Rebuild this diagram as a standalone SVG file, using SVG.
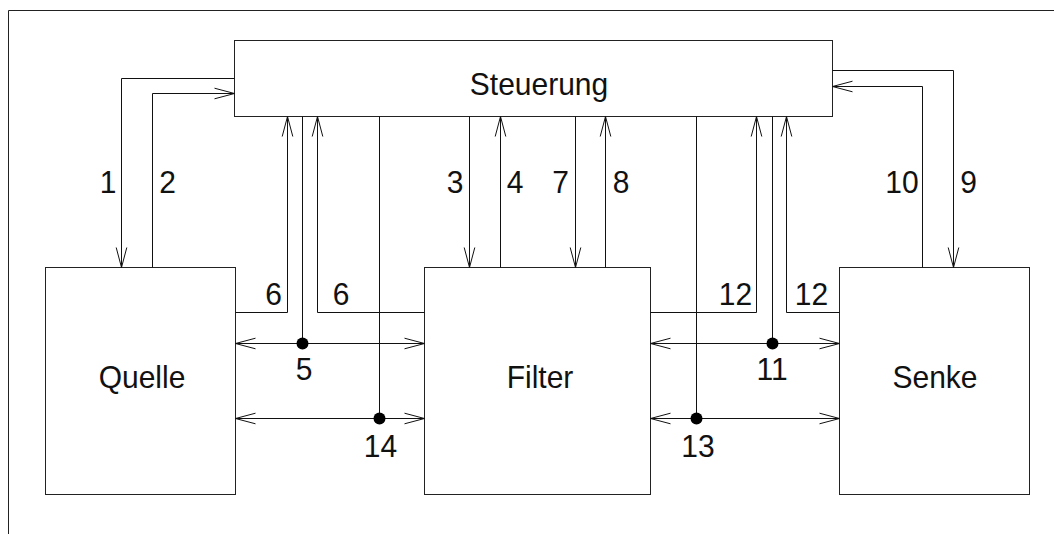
<svg xmlns="http://www.w3.org/2000/svg" width="1054" height="534" viewBox="0 0 1054 534">
<style>
.box{fill:#fff;stroke:#222;stroke-width:1}
.c{fill:none;stroke:#111;stroke-width:1}
.lbl{font-family:"Liberation Sans",Arial,sans-serif;font-size:30px;fill:#111;text-anchor:middle}
.dot{fill:#000}
</style>
<defs>
<marker id="a" markerUnits="userSpaceOnUse" viewBox="-21 -6 22 12" refX="0" refY="0" markerWidth="22" markerHeight="12" orient="auto-start-reverse" overflow="visible">
<path d="M-20,-5.3 L0,0 L-20,5.3" fill="none" stroke="#111" stroke-width="1"/>
</marker>
</defs>
<rect width="1054" height="534" fill="#fff"/>
<path d="M8.5,534 V10.5 H1054" fill="none" stroke="#222" stroke-width="1"/>
<g id="steuerung"><rect class="box" x="234.5" y="40.5" width="598" height="76"/><text class="lbl" transform="translate(539 95) scale(1 1.06)">Steuerung</text></g>
<g id="quelle"><rect class="box" x="45.5" y="267.5" width="190" height="227"/><text class="lbl" transform="translate(142 388) scale(1 1.06)">Quelle</text></g>
<g id="filter"><rect class="box" x="424.5" y="267.5" width="226" height="227"/><text class="lbl" transform="translate(540 388) scale(1 1.06)">Filter</text></g>
<g id="senke"><rect class="box" x="839.5" y="267.5" width="190" height="227"/><text class="lbl" transform="translate(935 388) scale(1 1.06)">Senke</text></g>
<g id="connectors">
<path class="c" d="M234.5,78.5 H121.5 V267.5" marker-end="url(#a)"/>
<path class="c" d="M152.5,267.5 V93.5 H234.5" marker-end="url(#a)"/>
<path class="c" d="M235.5,312.5 H287.5 V116.5" marker-end="url(#a)"/>
<path class="c" d="M302.5,116.5 V343.5"/>
<path class="c" d="M424.5,312.5 H317.5 V116.5" marker-end="url(#a)"/>
<path class="c" d="M379.5,116.5 V418.5"/>
<path class="c" d="M235.5,343.5 H424.5" marker-start="url(#a)" marker-end="url(#a)"/>
<path class="c" d="M235.5,418.5 H424.5" marker-start="url(#a)" marker-end="url(#a)"/>
<path class="c" d="M469.5,116.5 V267.5" marker-end="url(#a)"/>
<path class="c" d="M500.5,267.5 V116.5" marker-end="url(#a)"/>
<path class="c" d="M575.5,116.5 V267.5" marker-end="url(#a)"/>
<path class="c" d="M605.5,267.5 V116.5" marker-end="url(#a)"/>
<path class="c" d="M696.5,116.5 V418.5"/>
<path class="c" d="M650.5,343.5 H839.5" marker-start="url(#a)" marker-end="url(#a)"/>
<path class="c" d="M650.5,418.5 H839.5" marker-start="url(#a)" marker-end="url(#a)"/>
<path class="c" d="M650.5,312.5 H756.5 V116.5" marker-end="url(#a)"/>
<path class="c" d="M772.5,116.5 V343.5"/>
<path class="c" d="M839.5,312.5 H786.5 V116.5" marker-end="url(#a)"/>
<path class="c" d="M922.5,267.5 V86.5 H832.5" marker-end="url(#a)"/>
<path class="c" d="M832.5,70.5 H953.5 V267.5" marker-end="url(#a)"/>
<circle class="dot" cx="302.5" cy="343.5" r="6"/>
<circle class="dot" cx="379.5" cy="418.5" r="6"/>
<circle class="dot" cx="696.5" cy="418.5" r="6"/>
<circle class="dot" cx="772.5" cy="343.5" r="6"/>
<text class="lbl" transform="translate(108 193) scale(1 1.06)">1</text>
<text class="lbl" transform="translate(167.5 193) scale(1 1.06)">2</text>
<text class="lbl" transform="translate(455 193) scale(1 1.06)">3</text>
<text class="lbl" transform="translate(515 193) scale(1 1.06)">4</text>
<text class="lbl" transform="translate(560.5 193) scale(1 1.06)">7</text>
<text class="lbl" transform="translate(621 193) scale(1 1.06)">8</text>
<text class="lbl" transform="translate(902 193) scale(1 1.06)">10</text>
<text class="lbl" transform="translate(968.5 193) scale(1 1.06)">9</text>
<text class="lbl" transform="translate(273.5 305) scale(1 1.06)">6</text>
<text class="lbl" transform="translate(341 305) scale(1 1.06)">6</text>
<text class="lbl" transform="translate(735.5 305) scale(1 1.06)">12</text>
<text class="lbl" transform="translate(811.5 305) scale(1 1.06)">12</text>
<text class="lbl" transform="translate(304 380) scale(1 1.06)">5</text>
<text class="lbl" transform="translate(772 380) scale(1 1.06)">11</text>
<text class="lbl" transform="translate(380.5 457) scale(1 1.06)">14</text>
<text class="lbl" transform="translate(698 457) scale(1 1.06)">13</text>
</g>
</svg>
